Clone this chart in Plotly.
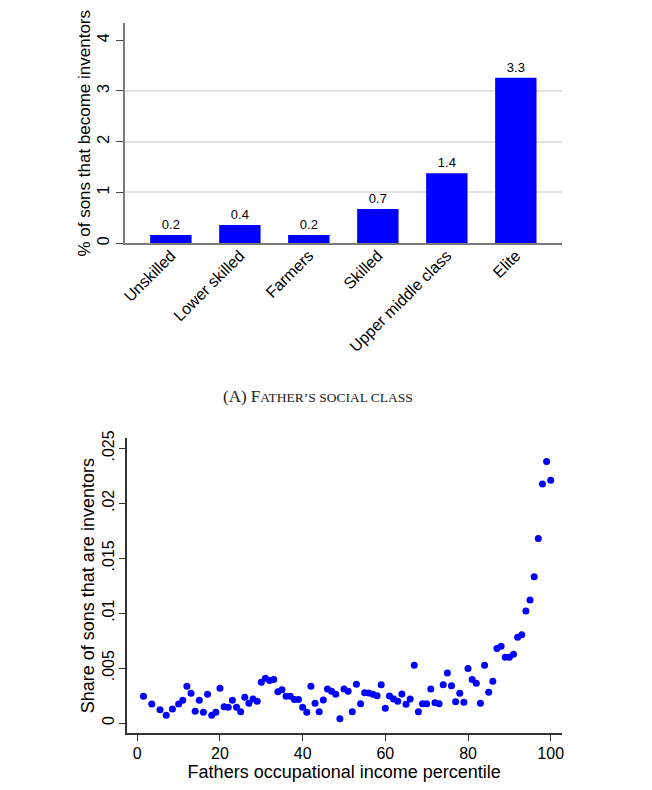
import plotly.graph_objects as go

# ---- Panel A data ----
classes = ["Unskilled", "Lower skilled", "Farmers", "Skilled", "Upper middle class", "Elite"]
share_pct = [0.165, 0.36, 0.165, 0.675, 1.38, 3.26]
bar_labels = ["0.2", "0.4", "0.2", "0.7", "1.4", "3.3"]
ytick_a_vals = [0, 1, 2, 3, 4]
grid_a_vals = [1, 2, 3]

# ---- Panel B data ----
pctile = [1.5, 3.5, 5.5, 7, 8.5, 10, 11, 12, 13, 14, 15, 16, 17, 18, 19, 20,
          21, 22, 23, 24, 25, 26, 27, 28, 29, 30, 31, 32, 33, 34, 35, 36, 37,
          38, 39, 40, 41, 42, 43, 44, 45, 46, 47, 48, 49, 50, 51, 52, 53, 54,
          55, 56, 57, 58, 59, 60, 61, 62, 63, 64, 65, 66, 67, 68, 69, 70, 71,
          72, 73, 74, 75, 76, 77, 78, 79, 80, 81, 82, 83, 84, 85, 86, 87, 88,
          89, 90, 91, 92, 93, 94, 95, 96, 97, 98, 99, 100]
share_inv = [0.00243, 0.00173, 0.00121, 0.00070, 0.00127, 0.00173, 0.00206, 0.00334,
             0.00270, 0.00106, 0.00206, 0.00097, 0.00261, 0.00070, 0.00097, 0.00316,
             0.00149, 0.00143, 0.00206, 0.00143, 0.00103, 0.00234, 0.00179, 0.00218,
             0.00197, 0.00370, 0.00407, 0.00388, 0.00397, 0.00285, 0.00303, 0.00243,
             0.00243, 0.00215, 0.00215, 0.00143, 0.00097, 0.00334, 0.00179, 0.00103,
             0.00209, 0.00309, 0.00288, 0.00261, 0.00039, 0.00309, 0.00288, 0.00103,
             0.00352, 0.00176, 0.00276, 0.00273, 0.00261, 0.00249, 0.00349, 0.00134,
             0.00246, 0.00218, 0.00197, 0.00264, 0.00170, 0.00218, 0.00525, 0.00103,
             0.00176, 0.00176, 0.00309, 0.00185, 0.00176, 0.00349, 0.00455, 0.00340,
             0.00194, 0.00270, 0.00188, 0.00495, 0.00397, 0.00361, 0.00179, 0.00525,
             0.00279, 0.00379, 0.00677, 0.00698, 0.00598, 0.00598, 0.00625, 0.00780,
             0.00804, 0.01020, 0.01120, 0.01332, 0.01680, 0.02175, 0.02380, 0.02210]

ytick_b_vals = [0, 0.005, 0.01, 0.015, 0.02, 0.025]
ytick_b_text = ["0", ".005", ".01", ".015", ".02", ".025"]
xtick_b_vals = [0, 20, 40, 60, 80, 100]

FONT = "Liberation Sans, Arial, sans-serif"
BLUE = "#0000FF"

# page has an 8px body margin; figure sized to fit the 652x790 window
OFF = 8
W, H = 636, 774


def fx(p):
    return (p - OFF) / W


def fy(p):
    return 1 - (p - OFF) / H


fig = go.Figure()

fig.add_trace(go.Bar(
    x=classes, y=share_pct, text=bar_labels, textposition="outside",
    textfont=dict(size=13, color="black", family=FONT),
    marker=dict(color=BLUE, line=dict(width=0)), width=0.6,
    cliponaxis=False, xaxis="x", yaxis="y", showlegend=False,
))

fig.add_trace(go.Scatter(
    x=pctile, y=share_inv, mode="markers",
    marker=dict(color=BLUE, size=7, line=dict(width=0)),
    xaxis="x2", yaxis="y2", showlegend=False,
))

xd_top = [fx(125), fx(561.7)]
yd_top = [fy(243.3), fy(23.3)]
xd_bot = [fx(126.7), fx(561.7)]
yd_bot = [fy(733.3), fy(438)]

fig.update_layout(
    width=W, height=H,
    margin=dict(l=0, r=0, t=0, b=0),
    paper_bgcolor="white", plot_bgcolor="white",
    font=dict(family=FONT, color="black"),
    xaxis=dict(
        domain=xd_top, anchor="y", range=[-0.665, 5.665],
        showline=True, linecolor="#7a7a7a", linewidth=1.5,
        ticks="", tickangle=-45, tickfont=dict(size=16), ticklabelstandoff=-5,
        showgrid=False, zeroline=False, automargin=False,
    ),
    yaxis=dict(
        domain=yd_top, anchor="x", range=[0, 4.33],
        tickvals=ytick_a_vals, tickangle=-90,
        ticks="outside", ticklen=7, tickcolor="#444", tickwidth=1.2,
        tickfont=dict(size=16), ticklabelstandoff=1,
        showline=True, linecolor="#7a7a7a", linewidth=1.5,
        showgrid=False, zeroline=False, automargin=False,
        minor=dict(tickvals=grid_a_vals, showgrid=True, gridcolor="#e3e3e3",
                   gridwidth=1.5, ticks=""),
        title=dict(text="% of sons that become inventors", font=dict(size=17), standoff=0),
    ),
    xaxis2=dict(
        domain=xd_bot, anchor="y2", range=[-2.56, 102.66],
        tickvals=xtick_b_vals, ticks="outside", ticklen=6, tickcolor="#333", tickwidth=1.2,
        tickfont=dict(size=16), ticklabelstandoff=-1,
        showline=True, linecolor="#333", linewidth=1.5,
        showgrid=False, zeroline=False, automargin=False,
        title=dict(text="Fathers occupational income percentile", font=dict(size=18), standoff=5),
    ),
    yaxis2=dict(
        domain=yd_bot, anchor="x2", range=[-0.000937, 0.02594],
        tickvals=ytick_b_vals, ticktext=ytick_b_text, tickangle=-90,
        ticks="outside", ticklen=6, tickcolor="#333", tickwidth=1.2,
        tickfont=dict(size=16), ticklabelstandoff=-1,
        showline=True, linecolor="#333", linewidth=1.5,
        showgrid=False, zeroline=False, automargin=False,
        title=dict(text="Share of sons that are inventors", font=dict(size=18), standoff=0),
    ),
    annotations=[dict(
        text="(A) F<span style='font-size:13.5px'>ATHER’S SOCIAL CLASS</span>",
        x=fx(318), y=fy(396), xref="paper", yref="paper",
        showarrow=False, xanchor="center", yanchor="middle",
        font=dict(family="Liberation Serif, Times New Roman, serif", size=17, color="#222"),
    )],
)

fig.write_html("out.html")
